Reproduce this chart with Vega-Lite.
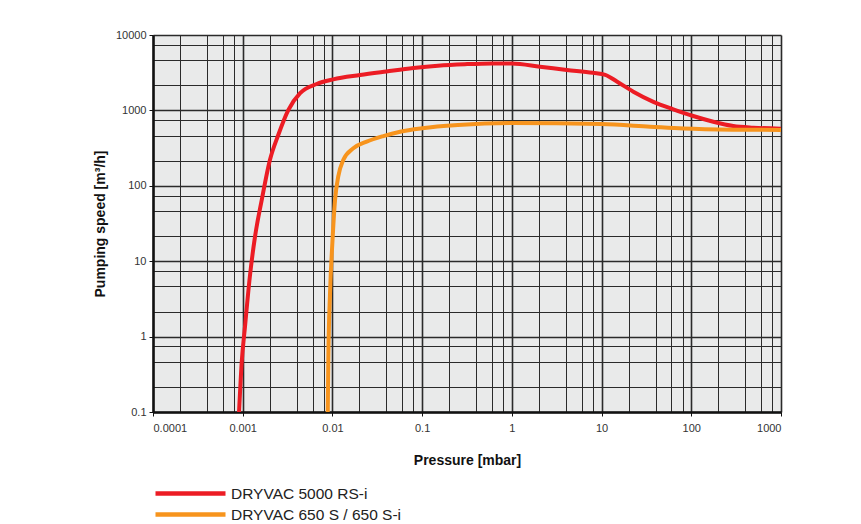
{
  "$schema": "https://vega.github.io/schema/vega-lite/v6.json",
  "autosize": {"type": "none"},
  "padding": {"left": 153, "top": 35, "right": 80, "bottom": 112},
  "width": 628,
  "height": 377,
  "background": "white",
  "config": {
    "font": "Liberation Sans",
    "view": {"fill": "#e9eaea", "stroke": null}
  },
  "data": {
    "values": [
      {"series": "DRYVAC 5000 RS-i", "pressure": 0.00091, "speed": 0.1},
      {"series": "DRYVAC 5000 RS-i", "pressure": 0.000975, "speed": 0.46},
      {"series": "DRYVAC 5000 RS-i", "pressure": 0.00106, "speed": 1.35},
      {"series": "DRYVAC 5000 RS-i", "pressure": 0.0012, "speed": 6.2},
      {"series": "DRYVAC 5000 RS-i", "pressure": 0.00137, "speed": 21},
      {"series": "DRYVAC 5000 RS-i", "pressure": 0.00163, "speed": 65},
      {"series": "DRYVAC 5000 RS-i", "pressure": 0.00201, "speed": 220},
      {"series": "DRYVAC 5000 RS-i", "pressure": 0.00249, "speed": 472},
      {"series": "DRYVAC 5000 RS-i", "pressure": 0.00322, "speed": 1010},
      {"series": "DRYVAC 5000 RS-i", "pressure": 0.00436, "speed": 1690},
      {"series": "DRYVAC 5000 RS-i", "pressure": 0.00668, "speed": 2240},
      {"series": "DRYVAC 5000 RS-i", "pressure": 0.0102, "speed": 2580},
      {"series": "DRYVAC 5000 RS-i", "pressure": 0.0203, "speed": 2940},
      {"series": "DRYVAC 5000 RS-i", "pressure": 0.04, "speed": 3280},
      {"series": "DRYVAC 5000 RS-i", "pressure": 0.08, "speed": 3650},
      {"series": "DRYVAC 5000 RS-i", "pressure": 0.15, "speed": 3920},
      {"series": "DRYVAC 5000 RS-i", "pressure": 0.3, "speed": 4100},
      {"series": "DRYVAC 5000 RS-i", "pressure": 0.6, "speed": 4200},
      {"series": "DRYVAC 5000 RS-i", "pressure": 1, "speed": 4180},
      {"series": "DRYVAC 5000 RS-i", "pressure": 2.06, "speed": 3800},
      {"series": "DRYVAC 5000 RS-i", "pressure": 4.09, "speed": 3440},
      {"series": "DRYVAC 5000 RS-i", "pressure": 8, "speed": 3150},
      {"series": "DRYVAC 5000 RS-i", "pressure": 11, "speed": 2960},
      {"series": "DRYVAC 5000 RS-i", "pressure": 14.8, "speed": 2420},
      {"series": "DRYVAC 5000 RS-i", "pressure": 22.6, "speed": 1770},
      {"series": "DRYVAC 5000 RS-i", "pressure": 37.8, "speed": 1300},
      {"series": "DRYVAC 5000 RS-i", "pressure": 63, "speed": 1035},
      {"series": "DRYVAC 5000 RS-i", "pressure": 105, "speed": 843},
      {"series": "DRYVAC 5000 RS-i", "pressure": 176, "speed": 708},
      {"series": "DRYVAC 5000 RS-i", "pressure": 294, "speed": 621},
      {"series": "DRYVAC 5000 RS-i", "pressure": 492, "speed": 590},
      {"series": "DRYVAC 5000 RS-i", "pressure": 1000, "speed": 572},
      {"series": "DRYVAC 650 S / 650 S-i", "pressure": 0.00887, "speed": 0.1},
      {"series": "DRYVAC 650 S / 650 S-i", "pressure": 0.009, "speed": 0.49},
      {"series": "DRYVAC 650 S / 650 S-i", "pressure": 0.0094, "speed": 3.75},
      {"series": "DRYVAC 650 S / 650 S-i", "pressure": 0.00998, "speed": 17.3},
      {"series": "DRYVAC 650 S / 650 S-i", "pressure": 0.0107, "speed": 65},
      {"series": "DRYVAC 650 S / 650 S-i", "pressure": 0.0116, "speed": 132},
      {"series": "DRYVAC 650 S / 650 S-i", "pressure": 0.0132, "speed": 220},
      {"series": "DRYVAC 650 S / 650 S-i", "pressure": 0.0171, "speed": 314},
      {"series": "DRYVAC 650 S / 650 S-i", "pressure": 0.0241, "speed": 385},
      {"series": "DRYVAC 650 S / 650 S-i", "pressure": 0.0369, "speed": 457},
      {"series": "DRYVAC 650 S / 650 S-i", "pressure": 0.0568, "speed": 522},
      {"series": "DRYVAC 650 S / 650 S-i", "pressure": 0.1, "speed": 580},
      {"series": "DRYVAC 650 S / 650 S-i", "pressure": 0.25, "speed": 640},
      {"series": "DRYVAC 650 S / 650 S-i", "pressure": 1, "speed": 680},
      {"series": "DRYVAC 650 S / 650 S-i", "pressure": 10, "speed": 660},
      {"series": "DRYVAC 650 S / 650 S-i", "pressure": 34.7, "speed": 608},
      {"series": "DRYVAC 650 S / 650 S-i", "pressure": 81.7, "speed": 575},
      {"series": "DRYVAC 650 S / 650 S-i", "pressure": 294, "speed": 555},
      {"series": "DRYVAC 650 S / 650 S-i", "pressure": 1000, "speed": 550}
    ]
  },
  "mark": {"type": "line", "strokeWidth": 4, "interpolate": "monotone", "clip": true},
  "encoding": {
    "x": {
      "field": "pressure",
      "type": "quantitative",
      "scale": {"type": "log", "domain": [0.0001, 1000], "nice": false},
      "axis": {
        "title": "Pressure [mbar]",
        "titleFontSize": 14,
        "titleFontWeight": "bold",
        "titleColor": "#111",
        "titlePadding": 20,
        "values": [0.0001, 0.0002, 0.0004, 0.0006, 0.0008, 0.001, 0.002, 0.004, 0.006, 0.008, 0.01, 0.02, 0.04, 0.06, 0.08, 0.1, 0.2, 0.4, 0.6, 0.8, 1, 2, 4, 6, 8, 10, 20, 40, 60, 80, 100, 200, 400, 600, 800, 1000],
        "labelExpr": "abs(log(datum.value)/LN10 - round(log(datum.value)/LN10)) < 0.001 ? format(datum.value, '~g') : ''",
        "labelFontSize": 11,
        "labelColor": "#333",
        "labelPadding": 6,
        "tickSize": 4,
        "tickColor": {"condition": {"test": "abs(log(datum.value)/LN10 - round(log(datum.value)/LN10)) < 0.001", "value": "#111"}, "value": "transparent"},
        "domainColor": "#111",
        "domainWidth": 2.5,
        "grid": true,
        "gridColor": "#2a2a2a",
        "gridOpacity": 1,
        "gridWidth": {"condition": {"test": "abs(log(datum.value)/LN10 - round(log(datum.value)/LN10)) < 0.001", "value": 1.6}, "value": 1}
      }
    },
    "y": {
      "field": "speed",
      "type": "quantitative",
      "scale": {"type": "log", "domain": [0.1, 10000], "nice": false},
      "axis": {
        "title": "Pumping speed [m³/h]",
        "titleFontSize": 14,
        "titleFontWeight": "bold",
        "titleColor": "#111",
        "titlePadding": 8,
        "values": [0.1, 0.215, 0.464, 0.74, 1, 2.15, 4.64, 7.4, 10, 21.5, 46.4, 74, 100, 215, 464, 740, 1000, 2150, 4640, 7400, 10000],
        "labelExpr": "abs(log(datum.value)/LN10 - round(log(datum.value)/LN10)) < 0.001 ? format(datum.value, '~g') : ''",
        "labelFontSize": 11,
        "labelColor": "#333",
        "labelPadding": 3,
        "tickSize": 4,
        "tickColor": {"condition": {"test": "abs(log(datum.value)/LN10 - round(log(datum.value)/LN10)) < 0.001", "value": "#111"}, "value": "transparent"},
        "domainColor": "#111",
        "domainWidth": 2.5,
        "grid": true,
        "gridColor": "#2a2a2a",
        "gridOpacity": 1,
        "gridWidth": {"condition": {"test": "abs(log(datum.value)/LN10 - round(log(datum.value)/LN10)) < 0.001", "value": 1.6}, "value": 1}
      }
    },
    "color": {
      "field": "series",
      "type": "nominal",
      "scale": {"domain": ["DRYVAC 5000 RS-i", "DRYVAC 650 S / 650 S-i"], "range": ["#ec1c24", "#f7941d"]},
      "legend": {
        "title": null,
        "orient": "none",
        "legendX": -7,
        "legendY": 449,
        "direction": "vertical",
        "symbolType": "M0,0H10",
        "symbolSize": 196,
        "symbolStrokeWidth": 4.5,
        "labelFontSize": 15.5,
        "labelColor": "#222",
        "labelOffset": 66,
        "rowPadding": 2,
        "labelLimit": 400
      }
    },
    "order": {"field": "series"}
  }
}
